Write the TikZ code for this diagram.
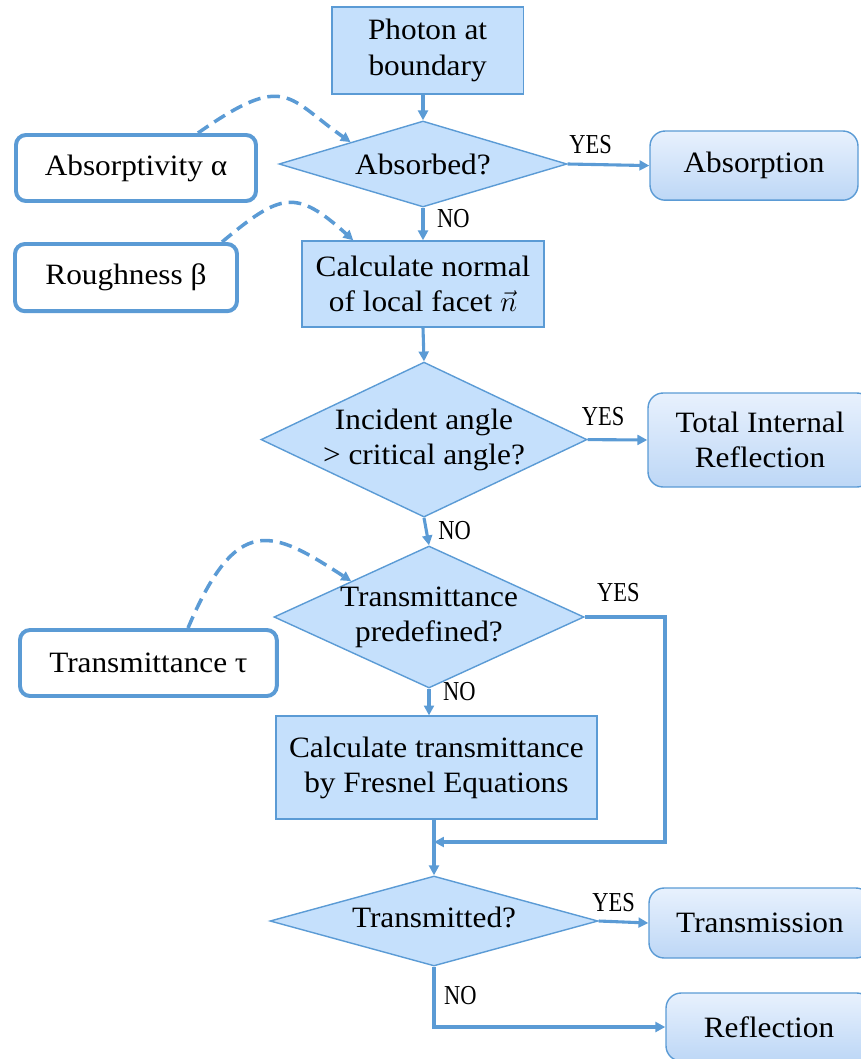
\documentclass[tikz,border=0pt]{standalone}
\usepackage{fontspec}
\setmainfont[FakeStretch=1.06]{Liberation Serif}
\newfontfamily\answerfont[FakeStretch=0.82]{Liberation Serif}
\usetikzlibrary{positioning,shapes.geometric,arrows.meta}
\definecolor{boxblue}{RGB}{197,224,252}
\definecolor{lineblue}{RGB}{91,155,213}
\definecolor{outtop}{RGB}{232,241,253}
\definecolor{outbot}{RGB}{189,215,246}
\tikzset{every picture/.style={line width=1pt}}

\begin{document}
\begin{tikzpicture}[>={Triangle[length=7pt,width=7pt]},
        every node/.style={font=\fontsize{21}{25}\selectfont},
        process/.style={rectangle, draw=lineblue, fill=boxblue, align=center},
        decision/.style={diamond, draw=lineblue, fill=boxblue, align=center, inner sep=-20pt},
        param/.style={rectangle, rounded corners=0.25cm, draw=lineblue, line width=2.8pt, fill=white},
        result/.style={rectangle, rounded corners=0.38cm, draw=lineblue, top color=outtop, bottom color=outbot, align=center},
        flow/.style={->, draw=lineblue, line width=2.2pt},
        feed/.style={->, draw=lineblue, line width=2.5pt, dash pattern=on 9pt off 5pt},
        answer/.style={font=\answerfont\fontsize{19.5}{22}\selectfont}]
        \useasboundingbox (0,0) rectangle (21.5,-26.475);
        % main column
        \node[process, minimum width=4.78cm, minimum height=2.18cm] (photon) at (10.69,-1.26) {Photon at\\boundary};
        \node[decision, minimum width=7.2cm, minimum height=2.15cm] (absorbed) at (10.575,-4.1) {Absorbed?};
        \node[process, minimum width=6.05cm, minimum height=2.15cm] (normal) at (10.575,-7.1) {Calculate normal\\of local facet $\vec{n}$};
        \node[decision, minimum width=8.15cm, minimum height=3.875cm] (critical) at (10.6,-10.99) {Incident angle\\> critical angle?};
        \node[decision, minimum width=7.75cm, minimum height=3.55cm] (predefined) at (10.725,-15.425) {\raisebox{-4pt}{\begin{tabular}{@{}c@{}}Transmittance\\predefined?\end{tabular}}};
        \node[process, minimum width=8.025cm, minimum height=2.575cm] (fresnel) at (10.91,-19.19) {Calculate transmittance\\by Fresnel Equations};
        \node[decision, minimum width=8.2cm, minimum height=2.25cm] (transmitted) at (10.85,-23.025) {\raisebox{6pt}{Transmitted?}};
        % outcomes
        \node[result, minimum width=5.2cm, minimum height=1.73cm] (absorption) at (18.85,-4.14) {Absorption};
        \node[result, minimum width=5.6cm, minimum height=2.35cm] (tir) at (19.0,-11.0) {Total Internal\\Reflection};
        \node[result, minimum width=5.55cm, minimum height=1.75cm] (transmission) at (19.0,-23.075) {Transmission};
        \node[result, minimum width=5.15cm, minimum height=1.7cm] (reflection) at (19.225,-25.675) {Reflection};
        % parameters
        \node[param, minimum width=6.0cm, minimum height=1.65cm] (absorptivity) at (3.4,-4.2) {Absorptivity α};
        \node[param, minimum width=5.55cm, minimum height=1.68cm] (roughness) at (3.15,-6.94) {Roughness β};
        \node[param, minimum width=6.42cm, minimum height=1.65cm] (transmittance) at (3.71,-16.575) {Transmittance τ};
        \coordinate (join) at (10.85,-21.05);
        \coordinate (bypass) at (16.625,-21.05);
        % connectors
        \draw[flow] (photon.south -| absorbed.north) -- (absorbed.north);
        \draw[flow] (absorbed.east) -- node[answer, pos=0.28, above=0.12cm] (yesabs) {YES} (absorption.west);
        \draw[flow] (absorbed.south) -- node[answer, pos=0.32, right=0.2cm] (noabs) {NO} (normal.north);
        \draw[flow] (normal.south) -- (critical.north);
        \draw[flow] (critical.east) -- node[answer, pos=0.26, above=0.2cm] (yescrit) {YES} (tir.west);
        \draw[flow] (critical.south) -- node[answer, pos=0.45, right=0.15cm] (nocrit) {NO} (predefined.north);
        \draw[flow] (predefined.east) -| node[answer, pos=0.21, above=0.22cm] (yespre) {YES} (bypass) |- (join);
        \draw[flow] (predefined.south) -- node[answer, pos=0.1, right=0.2cm] (nopre) {NO} (predefined.south |- fresnel.north);
        \draw[flow] (transmitted.north |- fresnel.south) -- (transmitted.north);
        \draw[flow] (transmitted.east) -- node[answer, pos=0.3, above=0.08cm] (yestr) {YES} (transmission.west);
        \draw[flow] (transmitted.south) |- node[answer, pos=0.24, right=0.1cm] (notr) {NO} (reflection.west);
        \draw[feed] ([xshift=1.55cm]absorptivity.north) to[out=35, in=145, out looseness=1.8, in looseness=1.3] (absorbed.north west);
        \draw[feed] ([xshift=2.4cm]roughness.north) to[out=40, in=138, looseness=1.5] ([xshift=1.3cm]normal.north west);
        \draw[feed] ([xshift=0.99cm]transmittance.north) to[out=67, in=147, out looseness=1.9, in looseness=1.43] (predefined.north west);
\end{tikzpicture}
\end{document}
